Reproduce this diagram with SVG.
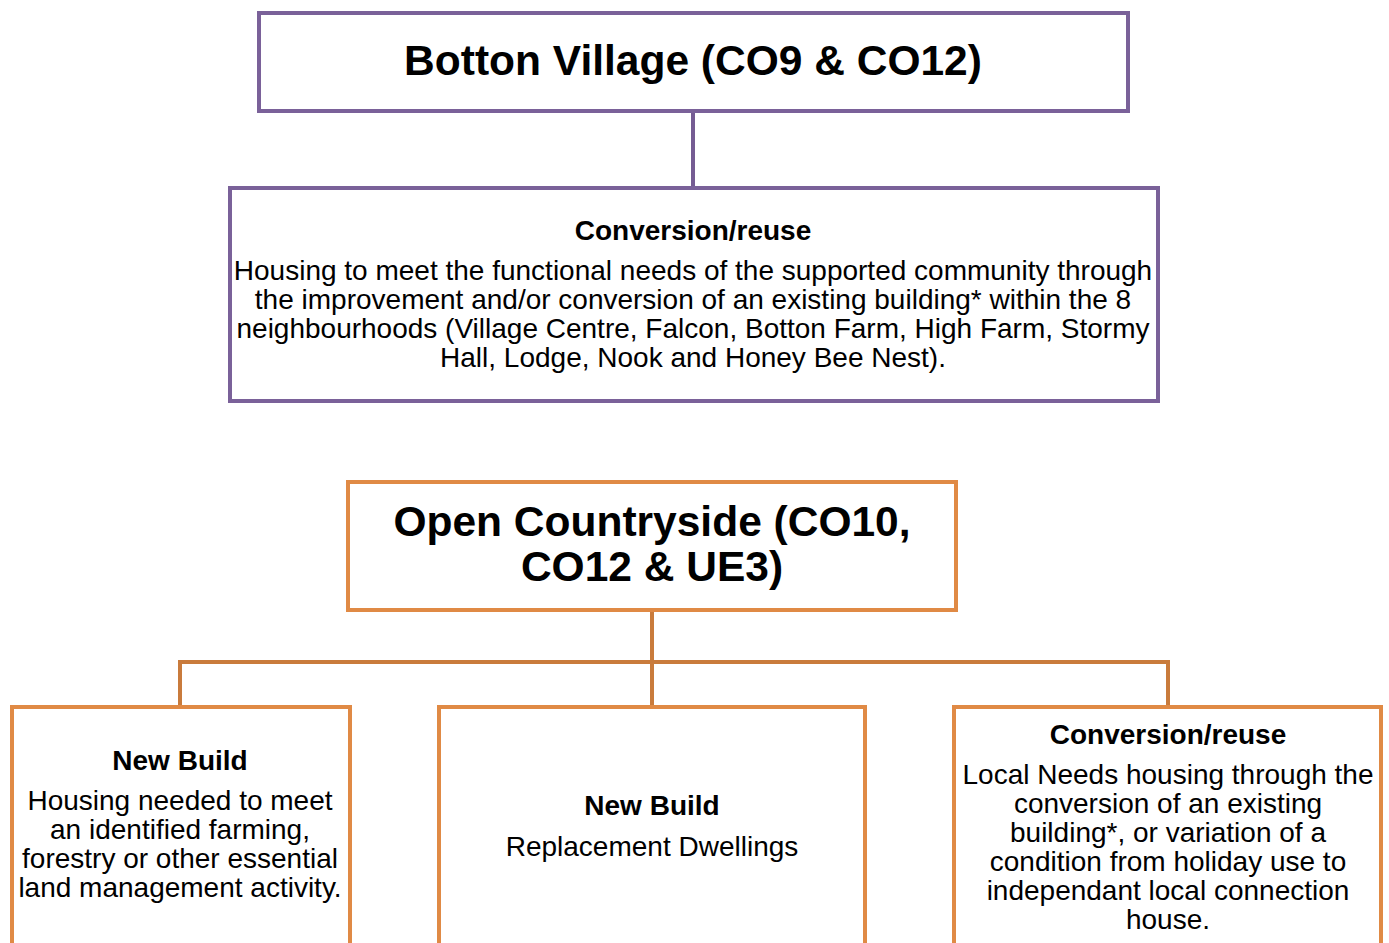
<svg xmlns="http://www.w3.org/2000/svg" width="1389" height="943" viewBox="0 0 1389 943">
  <style>
    .box { fill: #ffffff; stroke-width: 4; }
    .purple { stroke: #7a6199; }
    .orange { stroke: #e08a45; }
    .link { fill: none; stroke-width: 4; }
    .link-purple { stroke: #755c93; }
    .link-orange { stroke: #c97b3c; }
    text { font-family: "Liberation Sans", Arial, sans-serif; fill: #000; text-anchor: middle; }
    .title { font-size: 42.5px; font-weight: bold; }
    .head { font-size: 28px; font-weight: bold; }
    .body { font-size: 28px; }
  </style>

  <g id="connectors">
    <line class="link link-purple" x1="693" y1="111" x2="693" y2="188"/>
    <line class="link link-orange" x1="652" y1="610" x2="652" y2="707"/>
    <polyline class="link link-orange" points="180,707 180,662 1168,662 1168,707"/>
  </g>

  <g id="botton-village">
    <rect class="box purple" x="259" y="13" width="869" height="98"/>
    <text class="title" x="693" y="75">Botton Village (CO9 &amp; CO12)</text>
  </g>

  <g id="village-conversion">
    <rect class="box purple" x="230" y="188" width="928" height="213"/>
    <text class="head" x="693" y="240">Conversion/reuse</text>
    <text class="body" x="693" y="280">Housing to meet the functional needs of the supported community through</text>
    <text class="body" x="693" y="309">the improvement and/or conversion of an existing building* within the 8</text>
    <text class="body" x="693" y="338">neighbourhoods (Village Centre, Falcon, Botton Farm, High Farm, Stormy</text>
    <text class="body" x="693" y="367">Hall, Lodge, Nook and Honey Bee Nest).</text>
  </g>

  <g id="open-countryside">
    <rect class="box orange" x="348" y="482" width="608" height="128"/>
    <text class="title" x="652" y="536">Open Countryside (CO10,</text>
    <text class="title" x="652" y="581">CO12 &amp; UE3)</text>
  </g>

  <g id="new-build-essential">
    <rect class="box orange" x="12" y="707" width="338" height="260"/>
    <text class="head" x="180" y="770">New Build</text>
    <text class="body" x="180" y="810">Housing needed to meet</text>
    <text class="body" x="180" y="839">an identified farming,</text>
    <text class="body" x="180" y="868">forestry or other essential</text>
    <text class="body" x="180" y="897">land management activity.</text>
  </g>

  <g id="new-build-replacement">
    <rect class="box orange" x="439" y="707" width="426" height="260"/>
    <text class="head" x="652" y="815">New Build</text>
    <text class="body" x="652" y="856">Replacement Dwellings</text>
  </g>

  <g id="countryside-conversion">
    <rect class="box orange" x="954" y="707" width="427" height="260"/>
    <text class="head" x="1168" y="744">Conversion/reuse</text>
    <text class="body" x="1168" y="784">Local Needs housing through the</text>
    <text class="body" x="1168" y="813">conversion of an existing</text>
    <text class="body" x="1168" y="842">building*, or variation of a</text>
    <text class="body" x="1168" y="871">condition from holiday use to</text>
    <text class="body" x="1168" y="900">independant local connection</text>
    <text class="body" x="1168" y="929">house.</text>
  </g>
</svg>
